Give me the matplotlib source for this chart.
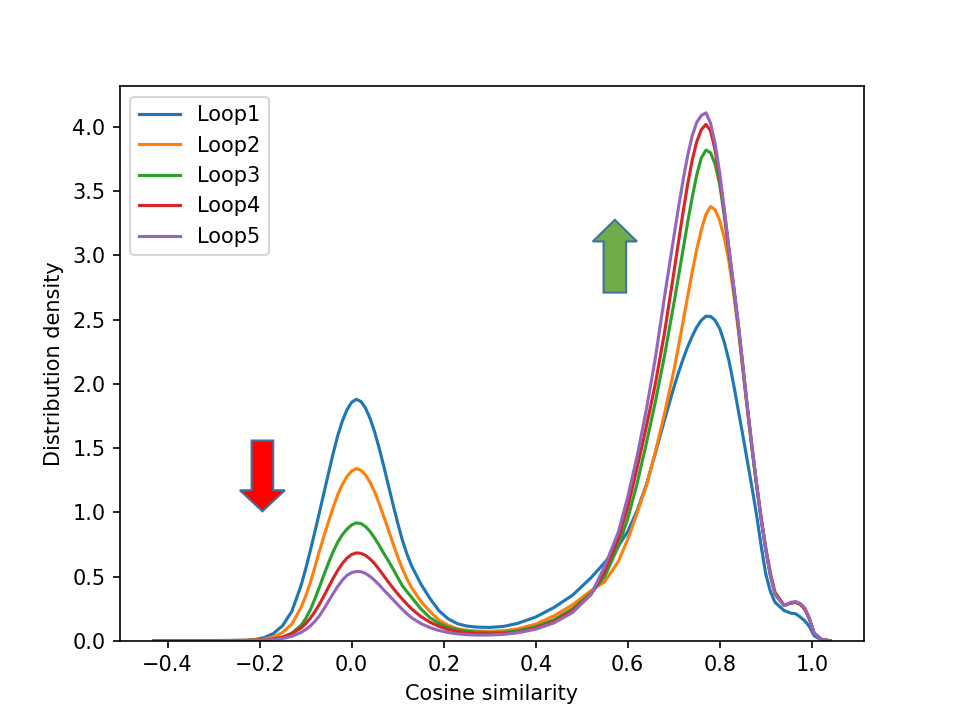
import matplotlib
matplotlib.use("Agg")
import matplotlib.pyplot as plt
from matplotlib.patches import FancyArrow

# Cosine similarity grid (denser around the peaks)
xs = [-0.43, -0.38, -0.33, -0.29, -0.26, -0.23, -0.21, -0.19, -0.17, -0.15,
      -0.13, -0.11, -0.10, -0.09, -0.08, -0.07, -0.06, -0.05, -0.04, -0.03,
      -0.02, -0.01, 0.00, 0.01, 0.02, 0.03, 0.04, 0.05, 0.06, 0.07,
      0.08, 0.09, 0.10, 0.11, 0.12, 0.13, 0.15, 0.17, 0.19, 0.21,
      0.23, 0.25, 0.27, 0.30, 0.33, 0.36, 0.40, 0.44, 0.48, 0.52,
      0.55, 0.58, 0.60, 0.62, 0.64, 0.66, 0.68, 0.70, 0.71, 0.72,
      0.73, 0.74, 0.75, 0.76, 0.77, 0.78, 0.79, 0.80, 0.81, 0.82,
      0.83, 0.84, 0.85, 0.86, 0.87, 0.88, 0.89, 0.90, 0.91, 0.92,
      0.94, 0.955, 0.965, 0.975, 0.985, 0.995, 1.005, 1.02, 1.04]

loop1 = [0.0, 0.001, 0.001, 0.002, 0.003, 0.005, 0.010, 0.025, 0.057, 0.118,
         0.23, 0.43, 0.559, 0.70, 0.848, 1.00, 1.156, 1.31, 1.462, 1.60,
         1.713, 1.80, 1.857, 1.88, 1.863, 1.813, 1.732, 1.625, 1.497, 1.355,
         1.208, 1.06, 0.917, 0.785, 0.677, 0.585, 0.445, 0.33, 0.233, 0.17,
         0.133, 0.115, 0.107, 0.104, 0.112, 0.135, 0.185, 0.26, 0.355, 0.49,
         0.61, 0.74, 0.85, 1.01, 1.21, 1.46, 1.72, 1.97, 2.084, 2.19,
         2.286, 2.37, 2.442, 2.495, 2.527, 2.525, 2.495, 2.43, 2.323, 2.18,
         1.999, 1.80, 1.603, 1.40, 1.194, 0.98, 0.738, 0.52, 0.385, 0.30,
         0.235, 0.215, 0.21, 0.185, 0.155, 0.11, 0.04, 0.008, 0.0]

loop2 = [0.0, 0.001, 0.001, 0.001, 0.002, 0.004, 0.007, 0.013, 0.030, 0.065,
         0.13, 0.26, 0.348, 0.45, 0.573, 0.70, 0.818, 0.93, 1.041, 1.14,
         1.219, 1.28, 1.322, 1.34, 1.328, 1.292, 1.234, 1.158, 1.066, 0.965,
         0.861, 0.756, 0.655, 0.562, 0.483, 0.415, 0.309, 0.229, 0.16, 0.12,
         0.094, 0.082, 0.076, 0.074, 0.078, 0.092, 0.13, 0.195, 0.28, 0.39,
         0.46, 0.62, 0.79, 0.99, 1.20, 1.47, 1.77, 2.10, 2.286, 2.48,
         2.678, 2.87, 3.048, 3.20, 3.32, 3.38, 3.356, 3.27, 3.136, 2.95,
         2.709, 2.43, 2.119, 1.80, 1.501, 1.22, 0.961, 0.73, 0.531, 0.38,
         0.275, 0.295, 0.30, 0.285, 0.245, 0.17, 0.06, 0.012, 0.0]

loop3 = [0.0, 0.0, 0.001, 0.001, 0.001, 0.002, 0.003, 0.006, 0.013, 0.028,
         0.06, 0.12, 0.173, 0.24, 0.326, 0.42, 0.516, 0.61, 0.696, 0.77,
         0.827, 0.87, 0.902, 0.918, 0.913, 0.89, 0.851, 0.80, 0.742, 0.68,
         0.621, 0.56, 0.493, 0.43, 0.383, 0.34, 0.25, 0.18, 0.135, 0.105,
         0.085, 0.075, 0.068, 0.063, 0.066, 0.078, 0.11, 0.165, 0.25, 0.37,
         0.50, 0.74, 0.95, 1.22, 1.53, 1.86, 2.22, 2.62, 2.829, 3.04,
         3.252, 3.45, 3.628, 3.76, 3.82, 3.80, 3.711, 3.55, 3.305, 3.02,
         2.742, 2.45, 2.132, 1.81, 1.501, 1.21, 0.944, 0.71, 0.515, 0.37,
         0.275, 0.295, 0.30, 0.285, 0.245, 0.17, 0.06, 0.012, 0.0]

loop4 = [0.0, 0.0, 0.0, 0.001, 0.001, 0.001, 0.003, 0.006, 0.013, 0.028,
         0.055, 0.10, 0.134, 0.175, 0.226, 0.285, 0.351, 0.42, 0.488, 0.55,
         0.603, 0.645, 0.672, 0.684, 0.681, 0.665, 0.637, 0.60, 0.554, 0.505,
         0.457, 0.41, 0.366, 0.325, 0.286, 0.25, 0.19, 0.145, 0.112, 0.088,
         0.072, 0.062, 0.056, 0.053, 0.056, 0.067, 0.098, 0.15, 0.235, 0.36,
         0.54, 0.80, 1.04, 1.34, 1.66, 2.0, 2.40, 2.86, 3.098, 3.33,
         3.549, 3.74, 3.886, 3.98, 4.02, 3.97, 3.819, 3.60, 3.338, 3.05,
         2.766, 2.47, 2.146, 1.82, 1.511, 1.22, 0.949, 0.71, 0.514, 0.37,
         0.275, 0.295, 0.30, 0.285, 0.25, 0.17, 0.06, 0.012, 0.0]

loop5 = [0.0, 0.0, 0.0, 0.0, 0.001, 0.001, 0.002, 0.004, 0.009, 0.018,
         0.035, 0.065, 0.087, 0.115, 0.151, 0.195, 0.25, 0.31, 0.369, 0.425,
         0.473, 0.51, 0.531, 0.54, 0.538, 0.525, 0.501, 0.47, 0.434, 0.395,
         0.358, 0.32, 0.282, 0.245, 0.211, 0.18, 0.135, 0.103, 0.08, 0.064,
         0.054, 0.048, 0.045, 0.045, 0.05, 0.062, 0.09, 0.14, 0.22, 0.36,
         0.58, 0.85, 1.12, 1.43, 1.79, 2.20, 2.68, 3.14, 3.367, 3.58,
         3.773, 3.93, 4.036, 4.09, 4.11, 4.03, 3.868, 3.64, 3.356, 3.05,
         2.769, 2.48, 2.152, 1.82, 1.511, 1.22, 0.949, 0.71, 0.508, 0.36,
         0.275, 0.30, 0.305, 0.29, 0.255, 0.17, 0.06, 0.012, 0.0]

loops = [loop1, loop2, loop3, loop4, loop5]
labels = ["Loop1", "Loop2", "Loop3", "Loop4", "Loop5"]

fig = plt.figure(figsize=(6.4, 4.8), dpi=150)
ax = fig.add_subplot(111)

for values, label in zip(loops, labels):
    ax.plot(xs, values, label=label)

# Down arrow (red) over the left peak, up arrow (green) by the right peak
ax.add_patch(FancyArrow(-0.194, 1.559, 0, -0.551, width=0.047,
                        head_width=0.098, head_length=0.164,
                        length_includes_head=True,
                        facecolor="#FF0000", edgecolor="#41719C", linewidth=1))
ax.add_patch(FancyArrow(0.572, 2.711, 0, 0.566, width=0.049,
                        head_width=0.096, head_length=0.168,
                        length_includes_head=True,
                        facecolor="#70AD47", edgecolor="#41719C", linewidth=1))

ax.set_xlim(-0.5035, 1.1135)
ax.set_ylim(0, 4.316)
ax.set_xlabel("Cosine similarity")
ax.set_ylabel("Distribution density")
ax.legend(loc="upper left")

fig.savefig("out.png", dpi=150)
